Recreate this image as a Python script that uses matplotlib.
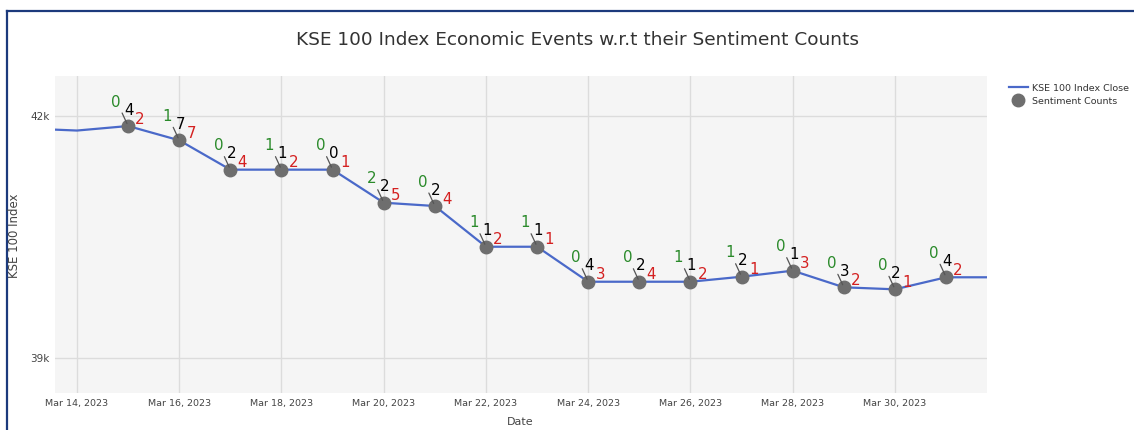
import matplotlib
matplotlib.use("Agg")
import matplotlib.pyplot as plt
import matplotlib.dates as mdates
from matplotlib.lines import Line2D
import numpy as np
import datetime as dt

# ---- data ----
dates = ["2023-03-13", "2023-03-14", "2023-03-15", "2023-03-16", "2023-03-17", "2023-03-18",
         "2023-03-19", "2023-03-20", "2023-03-21", "2023-03-22", "2023-03-23", "2023-03-24",
         "2023-03-25", "2023-03-26", "2023-03-27", "2023-03-28", "2023-03-29", "2023-03-30",
         "2023-03-31", "2023-04-01"]
close = [41840, 41814, 41870, 41693, 41330, 41330, 41330, 40921, 40880, 40376, 40376,
         39943, 39943, 39943, 40005, 40080, 39874, 39849, 39998, 39998]

event_dates = ["2023-03-15", "2023-03-16", "2023-03-17", "2023-03-18", "2023-03-19",
               "2023-03-20", "2023-03-21", "2023-03-22", "2023-03-23", "2023-03-24",
               "2023-03-25", "2023-03-26", "2023-03-27", "2023-03-28", "2023-03-29",
               "2023-03-30", "2023-03-31"]
positive = [0, 1, 0, 1, 0, 2, 0, 1, 1, 0, 0, 1, 1, 0, 0, 0, 0]
neutral = [4, 7, 2, 1, 0, 2, 2, 1, 1, 4, 2, 1, 2, 1, 3, 2, 4]
negative = [2, 7, 4, 2, 1, 5, 4, 2, 1, 3, 4, 2, 1, 3, 2, 1, 2]

xtick_dates = ["2023-03-14", "2023-03-16", "2023-03-18", "2023-03-20", "2023-03-22",
               "2023-03-24", "2023-03-26", "2023-03-28", "2023-03-30"]
ytick_vals = [39000, 42000]
ytick_labels = ["39k", "42k"]

title = "KSE 100 Index Economic Events w.r.t their Sentiment Counts"

# ---- figure ----
W, H = 1134, 430
fig = plt.figure(figsize=(W / 100, H / 100), dpi=100)
fig.patch.set_facecolor("white")

def px(x0, y0, x1, y1):
    return [x0 / W, 1 - y1 / H, (x1 - x0) / W, (y1 - y0) / H]

ax = fig.add_axes(px(55, 76, 987, 393))
ax.set_facecolor("#f5f5f5")
for s in ax.spines.values():
    s.set_visible(False)

to_dt = lambda s: dt.datetime.strptime(s, "%Y-%m-%d")
xd = [to_dt(d) for d in dates]
ed = [to_dt(d) for d in event_dates]
close_map = dict(zip(dates, close))
ev_y = [close_map[d] for d in event_dates]

ax.plot(xd, close, color="#4a69c9", lw=1.6, zorder=3)
ax.plot(ed, ev_y, "o", color="#6e6e6e", ms=9, zorder=4, mec="#6e6e6e")

fs = 10.8
for d, y, p, n, ng in zip(ed, ev_y, positive, neutral, negative):
    ax.annotate(str(p), (d, y), xytext=(-12, 24), textcoords="offset pixels",
                ha="center", va="center", color="#2a8a2a", fontsize=fs, zorder=6)
    ax.annotate(str(n), (d, y), xytext=(1, 16), textcoords="offset pixels",
                ha="center", va="center", color="black", fontsize=fs, zorder=6)
    ax.annotate(str(ng), (d, y), xytext=(12, 7), textcoords="offset pixels",
                ha="center", va="center", color="#d42020", fontsize=fs, zorder=6)
    ax.annotate("", (d, y), xytext=(-6, 13), textcoords="offset pixels",
                arrowprops=dict(arrowstyle="-", color="#555555", lw=0.9,
                                shrinkA=0, shrinkB=2), zorder=5)

x0 = mdates.date2num(to_dt("2023-03-14")) - 0.43
x1 = mdates.date2num(to_dt("2023-03-14")) + 17.8
ax.set_xlim(x0, x1)
ax.set_ylim(38566, 42489)

ax.set_xticks([to_dt(d) for d in xtick_dates])
ax.set_xticklabels([to_dt(d).strftime("%b %d, %Y").replace(" 0", " ") for d in xtick_dates])
ax.set_yticks(ytick_vals)
ax.set_yticklabels(ytick_labels)
ax.tick_params(axis="both", length=0, labelsize=6.8, colors="#444444")
ax.tick_params(axis="y", labelsize=7.5, pad=4)
ax.tick_params(axis="x", pad=4)
ax.grid(True, color="#dcdcdc", lw=1, zorder=0)
ax.set_axisbelow(True)

fig.text(520 / W, 1 - 422 / H, "Date", fontsize=8, color="#444444", ha="center", va="center")
fig.text(15 / W, 1 - 236 / H, "KSE 100 Index", rotation=90, fontsize=8.5,
         color="#444444", ha="center", va="center")

fig.text(577 / W, 1 - 40 / H, title, fontsize=13.3, color="#333333", ha="center", va="center")

handles = [Line2D([], [], color="#4a69c9", lw=1.6),
           Line2D([], [], marker="o", ls="", color="#6e6e6e", ms=9)]
fig.legend(handles, ["KSE 100 Index Close", "Sentiment Counts"], loc="upper left",
           bbox_to_anchor=(1005 / W, 1 - 80 / H), frameon=False, fontsize=6.8,
           handlelength=2.0, handletextpad=0.5, labelspacing=0.4, borderaxespad=0,
           labelcolor="#333333")

# screenshot border (top and left)
fig.add_artist(Line2D([7 / W, 1], [1 - 11 / H, 1 - 11 / H], color="#1c3a7c", lw=1.6))
fig.add_artist(Line2D([7 / W, 7 / W], [0, 1 - 11 / H], color="#1c3a7c", lw=1.6))

fig.savefig("out.png", dpi=100, facecolor="white")
